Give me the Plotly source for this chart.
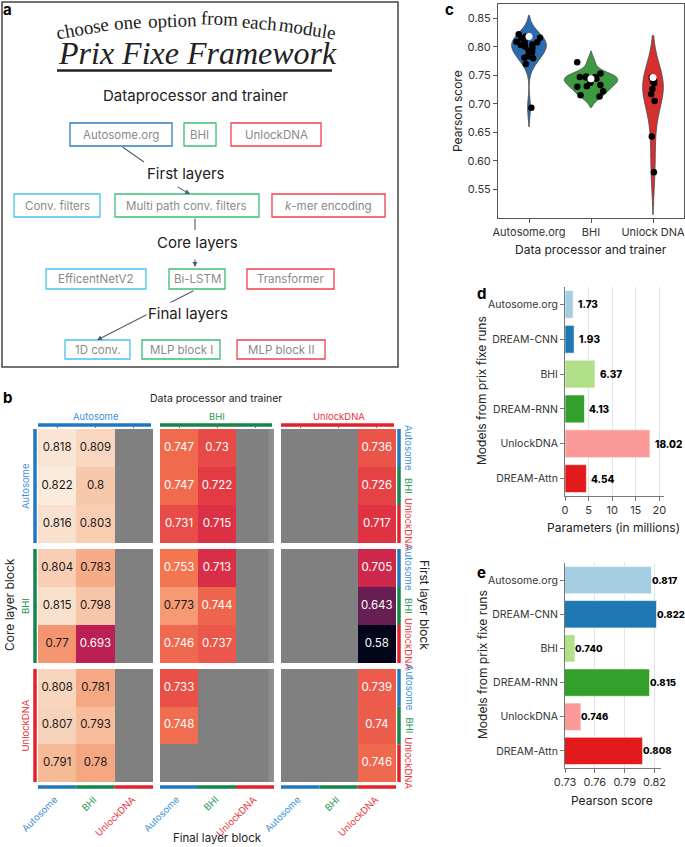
import plotly.graph_objects as go

W, H = 685, 847
def fx(x): return x / W
def fy(y): return 1 - y / H

# ---------------- DATA ----------------
N = None
groups = ["Autosome", "BHI", "UnlockDNA"]
# heatmap blocks: rows = first layer (Autosome, BHI, UnlockDNA), cols = final layer
# naming: core<core group>_dp<data processor group>
coreA_dpA = [[0.818, 0.809, N], [0.822, 0.8, N], [0.816, 0.803, N]]
coreA_dpB = [[0.747, 0.73, N], [0.747, 0.722, N], [0.731, 0.715, N]]
coreA_dpU = [[N, N, 0.736], [N, N, 0.726], [N, N, 0.717]]
coreB_dpA = [[0.804, 0.783, N], [0.815, 0.798, N], [0.77, 0.693, N]]
coreB_dpB = [[0.753, 0.713, N], [0.773, 0.744, N], [0.746, 0.737, N]]
coreB_dpU = [[N, N, 0.705], [N, N, 0.643], [N, N, 0.58]]
coreU_dpA = [[0.808, 0.781, N], [0.807, 0.793, N], [0.791, 0.78, N]]
coreU_dpB = [[0.733, N, N], [0.748, N, N], [N, N, N]]
coreU_dpU = [[N, N, 0.739], [N, N, 0.74], [N, N, 0.746]]

violin_cats = ["Autosome.org", "BHI", "Unlock DNA"]
original_scores = [0.818, 0.744, 0.746]

models = ["Autosome.org", "DREAM-CNN", "BHI", "DREAM-RNN", "UnlockDNA", "DREAM-Attn"]
params_millions = [1.73, 1.93, 6.37, 4.13, 18.02, 4.54]
pearson_scores = [0.817, 0.822, 0.740, 0.815, 0.746, 0.808]
model_colors = ["#a6cee3", "#1f78b4", "#b2df8a", "#33a02c", "#fb9a99", "#e31a1c"]

c_tick_vals = [0.55, 0.60, 0.65, 0.70, 0.75, 0.80, 0.85]
d_tick_vals = [0, 5, 10, 15, 20]
e_tick_vals = [0.73, 0.76, 0.79, 0.82]

# ---------------- STYLE ----------------
FONT = "Inter"
grp_bar = {"Autosome": "#1f78c1", "BHI": "#14864a", "UnlockDNA": "#e3202b"}
grp_txt = {"Autosome": "#3b8fd3", "BHI": "#2e9a56", "UnlockDNA": "#e8333d"}
rocket = [[0, '#03051a'], [1/7, '#35193e'], [2/7, '#701f57'], [3/7, '#ad1759'],
          [4/7, '#e13342'], [5/7, '#f37651'], [6/7, '#f6b48f'], [1, '#faebdd']]

fig = go.Figure()
shapes, annots = [], []

# ---------------- PANEL b (heatmap) ----------------
col_dom = [(38, 153), (160, 274), (281, 396)]
row_dom = [(429, 543), (549, 663), (669, 782)]
blocks = [[coreA_dpA, coreA_dpB, coreA_dpU],
          [coreB_dpA, coreB_dpB, coreB_dpU],
          [coreU_dpA, coreU_dpB, coreU_dpU]]
allv = [v for r in blocks for b in r for row in b for v in row if v is not None]
zmin, zmax = min(allv), max(allv)

def ax_name(prefix, i):
    return prefix if i == 0 else f"{prefix}{i+1}"

for r in range(3):
    for c in range(3):
        z = blocks[r][c]
        xa, ya = ax_name('x', c), ax_name('y', r)
        shapes.append(dict(type='rect', xref=xa, yref=ya, x0=-0.5, x1=2.5, y0=-0.5, y1=2.5,
                           fillcolor='#808080', line=dict(width=0), layer='below'))
        if c == 1:
            shapes.append(dict(type='rect', xref=xa, yref=ya, x0=2.36, x1=2.5, y0=-0.5, y1=2.5,
                               fillcolor='#8e8e8e', line=dict(width=0), layer='below'))
        fig.add_trace(go.Heatmap(z=z, x=[0, 1, 2], y=[0, 1, 2], xaxis=xa, yaxis=ya,
                                 colorscale=rocket, zmin=zmin, zmax=zmax, showscale=False,
                                 hoverongaps=False))
        tx, ty, tt, tc = [], [], [], []
        for i in range(3):
            for j in range(3):
                v = z[i][j]
                if v is None:
                    continue
                tx.append(j); ty.append(i); tt.append(f"{v:g}")
                tc.append('white' if v < 0.76 else '#1a1a1a')
        fig.add_trace(go.Scatter(x=tx, y=ty, text=tt, mode='text', xaxis=xa, yaxis=ya,
                                 textfont=dict(size=11.5, color=tc, family=FONT),
                                 hoverinfo='skip', showlegend=False))

layout_axes = {}
for c, (x0, x1) in enumerate(col_dom):
    layout_axes[ax_name('xaxis', c)] = dict(domain=[fx(x0), fx(x1)], anchor='y', side='top',
        range=[-0.5, 2.5], tickvals=[0, 1, 2], showticklabels=False, ticks='outside',
        ticklen=3, tickcolor='#777', showgrid=False, zeroline=False, showline=False)
for r, (y0, y1) in enumerate(row_dom):
    layout_axes[ax_name('yaxis', r)] = dict(domain=[fy(y1), fy(y0)], anchor='x',
        range=[2.5, -0.5], tickvals=[0, 1, 2], showticklabels=False, ticks='outside',
        ticklen=3, tickcolor='#777', showgrid=False, zeroline=False, showline=False)

# group bars and labels
for c, (x0, x1) in enumerate(col_dom):
    g = groups[c]
    shapes.append(dict(type='line', xref='paper', yref='paper', x0=fx(x0), x1=fx(x1 - 2),
                       y0=fy(425), y1=fy(425), line=dict(color=grp_bar[g], width=3.5)))
    annots.append(dict(x=fx((x0 + x1) / 2), y=fy(416), text=g, showarrow=False,
                       font=dict(size=9.5, color=grp_txt[g])))
    cw = (x1 - x0) / 3
    for j in range(3):
        gj = groups[j]
        shapes.append(dict(type='line', xref='paper', yref='paper', x0=fx(x0 + j * cw),
                           x1=fx(x0 + (j + 1) * cw), y0=fy(787), y1=fy(787),
                           line=dict(color=grp_bar[gj], width=3.5)))
        annots.append(dict(x=fx(x0 + (j + 0.5) * cw + 6), y=fy(791), text=gj, showarrow=False,
                           textangle=-45, xanchor='right', yanchor='top',
                           font=dict(size=9.5, color=grp_txt[gj])))
for r, (y0, y1) in enumerate(row_dom):
    g = groups[r]
    shapes.append(dict(type='line', xref='paper', yref='paper', x0=fx(35), x1=fx(35),
                       y0=fy(y0), y1=fy(y1), line=dict(color=grp_bar[g], width=3.5)))
    annots.append(dict(x=fx(25), y=fy((y0 + y1) / 2), text=g, showarrow=False, textangle=-90,
                       font=dict(size=9.5, color=grp_txt[g])))
    ch = (y1 - y0) / 3
    for i in range(3):
        gi = groups[i]
        shapes.append(dict(type='line', xref='paper', yref='paper', x0=fx(399), x1=fx(399),
                           y0=fy(y0 + i * ch), y1=fy(y0 + (i + 1) * ch),
                           line=dict(color=grp_bar[gi], width=3.5)))
        annots.append(dict(x=fx(409), y=fy(y0 + (i + 0.5) * ch), text=gi, showarrow=False,
                           textangle=90, font=dict(size=9.5, color=grp_txt[gi])))

annots += [
    dict(x=fx(216), y=fy(398), text="Data processor and trainer", showarrow=False,
         font=dict(size=10.5, color='#222')),
    dict(x=fx(9), y=fy(605), text="Core layer block", showarrow=False, textangle=-90,
         font=dict(size=12, color='#222')),
    dict(x=fx(425), y=fy(605), text="First layer block", showarrow=False, textangle=90,
         font=dict(size=12, color='#222')),
    dict(x=fx(217), y=fy(838), text="Final layer block", showarrow=False,
         font=dict(size=11.5, color='#222')),
]

# ---------------- PANEL c (violins) ----------------
dp_blocks = [[blocks[r][c] for r in range(3)] for c in range(3)]
violin_vals = []
for c in range(3):
    violin_vals.append([v for b in dp_blocks[c] for row in b for v in row if v is not None])
vcolors = ['#2b6cb0', '#3d9a40', '#d62f2f']
vwidths = [0.56, 0.86, 0.33]
vbw = [0.0165, 0.0095, 0.037]
vjit = [0.75, 0.7, 0.4]
for k in range(3):
    fig.add_trace(go.Violin(x=[violin_cats[k]] * len(violin_vals[k]), y=violin_vals[k],
                            xaxis='x4', yaxis='y4', fillcolor=vcolors[k], opacity=1,
                            line=dict(color='#4a4a4a', width=0.8), points='all', pointpos=0,
                            jitter=vjit[k], marker=dict(color='black', size=6.5),
                            width=vwidths[k], bandwidth=vbw[k], spanmode='soft',
                            scalemode='width', showlegend=False, hoverinfo='y'))
fig.add_trace(go.Scatter(x=violin_cats, y=original_scores, mode='markers', xaxis='x4',
                         yaxis='y4', marker=dict(color='white', size=7), showlegend=False))

layout_axes['xaxis4'] = dict(domain=[fx(498), fx(684)], anchor='y4', type='category',
    categoryorder='array', categoryarray=violin_cats, range=[-0.5, 2.5],
    showline=True, mirror=True, linecolor='#555', linewidth=1, ticks='outside', ticklen=4,
    tickcolor='#555', showgrid=False, zeroline=False, tickfont=dict(size=11, color='#333'))
layout_axes['yaxis4'] = dict(domain=[fy(218), fy(4)], anchor='x4', range=[0.5, 0.875],
    tickvals=c_tick_vals, tickformat='.2f', showline=True, mirror=True, linecolor='#555',
    linewidth=1, ticks='outside', ticklen=4, tickcolor='#555', showgrid=False,
    zeroline=False, tickfont=dict(size=11, color='#333'))
annots += [
    dict(x=fx(457), y=fy(111), text="Pearson score", showarrow=False, textangle=-90,
         font=dict(size=12, color='#222')),
    dict(x=fx(591), y=fy(249), text="Data processor and trainer", showarrow=False,
         font=dict(size=12, color='#222')),
]

# ---------------- PANEL d and e (bars) ----------------
bar_marker = dict(color=model_colors, line=dict(color='rgba(255,255,255,0.6)', width=1))
fig.add_trace(go.Bar(y=models, x=params_millions, orientation='h', xaxis='x5', yaxis='y5',
                     marker=bar_marker, width=0.8, showlegend=False))
fig.add_trace(go.Bar(y=models, x=pearson_scores, orientation='h', xaxis='x6', yaxis='y6',
                     marker=bar_marker, width=0.8, showlegend=False))
for m, v in zip(models, params_millions):
    annots.append(dict(x=v, y=m, xref='x5', yref='y5', text=f"{v:.2f}", showarrow=False,
                       xanchor='left', yanchor='middle', xshift=3,
                       font=dict(size=10, color='black', weight=800)))
for m, v in zip(models, pearson_scores):
    annots.append(dict(x=v, y=m, xref='x6', yref='y6', text=f"{v:.3f}", showarrow=False,
                       xanchor='left', yanchor='middle', xshift=-1, borderpad=0,
                       font=dict(size=9.5, color='black', weight=800)))

common_x = dict(showline=True, linecolor='#777', linewidth=1, ticks='outside', ticklen=4,
                tickcolor='#777', showgrid=True, gridcolor='#e4e4e4', zeroline=False,
                tickfont=dict(size=11, color='#333'))
common_y = dict(showline=True, linecolor='#777', linewidth=1, ticks='outside', ticklen=4,
                tickcolor='#777', showgrid=False, zeroline=False, type='category',
                categoryorder='array', categoryarray=models, autorange='reversed',
                tickfont=dict(size=10.5, color='#333'))
layout_axes['xaxis5'] = dict(domain=[fx(565), fx(664)], anchor='y5', range=[0, 21],
                             tickvals=d_tick_vals, **common_x)
layout_axes['yaxis5'] = dict(domain=[fy(496), fy(287)], anchor='x5', **common_y)
layout_axes['xaxis6'] = dict(domain=[fx(565), fx(661)], anchor='y6', range=[0.73, 0.8265],
                             tickvals=e_tick_vals, tickformat='.2f', **common_x)
layout_axes['yaxis6'] = dict(domain=[fy(768), fy(563)], anchor='x6', **common_y)

annots += [
    dict(x=fx(482), y=fy(391), text="Models from prix fixe runs", showarrow=False,
         textangle=-90, font=dict(size=12, color='#222')),
    dict(x=fx(613), y=fy(527), text="Parameters (in millions)", showarrow=False,
         font=dict(size=12, color='#222')),
    dict(x=fx(482), y=fy(665), text="Models from prix fixe runs", showarrow=False,
         textangle=-90, font=dict(size=12, color='#222')),
    dict(x=fx(612), y=fy(800), text="Pearson score", showarrow=False,
         font=dict(size=12, color='#222')),
]

# ---------------- PANEL a (diagram) ----------------
shapes.append(dict(type='rect', xref='paper', yref='paper', x0=fx(2), x1=fx(398),
                   y0=fy(367), y1=fy(2), line=dict(color='#444', width=1.5)))
shapes.append(dict(type='line', xref='paper', yref='paper', x0=fx(57), x1=fx(332),
                   y0=fy(70.5), y1=fy(70.5), line=dict(color='#222', width=2.5)))
arc_words = [("choose", 82, 28, -10), ("one", 127, 23, -5), ("option", 172, 20, -2),
             ("from", 219, 19, 2), ("each", 259, 22, 5), ("module", 307, 28, 9)]
for w, x, y, a in arc_words:
    annots.append(dict(x=fx(x), y=fy(y), text=w, showarrow=False, textangle=a,
                       font=dict(family="Liberation Serif", size=19, color='#222')))
annots.append(dict(x=fx(197), y=fy(53), text="Prix Fixe Framework", showarrow=False,
                   font=dict(family="Liberation Serif", size=32, color='#222', style='italic')))

LB, BL, GR, RD = '#45c4f0', '#2f7fc1', '#3dbd74', '#f0414b'
boxes = [
    ("Autosome.org", 70, 172, 123, 146, BL), ("BHI", 184, 216, 123, 146, GR),
    ("UnlockDNA", 231, 321, 123, 146, RD),
    ("Conv. filters", 14, 100, 194, 217, LB), ("Multi path conv. filters", 115, 259, 194, 217, GR),
    ("<i>k</i>-mer encoding", 272, 385, 194, 217, RD),
    ("EfficentNetV2", 46, 146, 269, 289, LB), ("Bi-LSTM", 169, 225, 269, 289, GR),
    ("Transformer", 247, 334, 269, 289, RD),
    ("1D conv.", 65, 130, 340, 359, LB), ("MLP block I", 142, 220, 340, 359, GR),
    ("MLP block II", 237, 325, 340, 359, RD),
]
for t, x0, x1, y0, y1, col in boxes:
    shapes.append(dict(type='rect', xref='paper', yref='paper', x0=fx(x0), x1=fx(x1),
                       y0=fy(y1), y1=fy(y0), line=dict(color=col, width=1.3), fillcolor='white'))
    annots.append(dict(x=fx((x0 + x1) / 2), y=fy((y0 + y1) / 2), text=t, showarrow=False,
                       font=dict(size=11.5, color='#8a8a8a')))

arrows = [(121, 146, 144, 162, False), (176, 186, 190, 194, True), (195, 217, 195, 230, False),
          (195, 258, 195, 267, True), (195, 290, 97, 340, True)]
for x0, y0, x1, y1, head in arrows:
    annots.append(dict(x=fx(x1), y=fy(y1), xref='paper', yref='paper', text='', showarrow=True,
                       ax=x0 - x1, ay=y0 - y1, arrowhead=2 if head else 0, arrowsize=0.9,
                       arrowwidth=1.1, arrowcolor='#505d6e', standoff=0))
for t, x, y in [("Dataprocessor and trainer", 196, 95), ("First layers", 186, 173),
                ("Core layers", 197, 242), ("Final layers", 188, 313)]:
    annots.append(dict(x=fx(x), y=fy(y), text=t, showarrow=False, bgcolor='white',
                       font=dict(size=15, color='#222')))

# panel letters
for t, x, y in [("a", 8, 9), ("b", 8, 397), ("c", 449, 9), ("d", 481, 294), ("e", 481, 572)]:
    annots.append(dict(x=fx(x), y=fy(y), text=f"<b>{t}</b>", showarrow=False,
                       font=dict(size=15, color='black')))

for a in annots:
    a.setdefault('xref', 'paper')
    a.setdefault('yref', 'paper')
    a.setdefault('xanchor', 'center')
    a.setdefault('yanchor', 'middle')

fig.update_layout(width=W, height=H, autosize=False, margin=dict(l=0, r=0, t=0, b=0),
                  template='none', paper_bgcolor='white', plot_bgcolor='white',
                  font=dict(family=FONT, size=11, color='#222'), showlegend=False,
                  violinmode='overlay', shapes=shapes, annotations=annots, **layout_axes)
fig.write_html("out.html", config={'displayModeBar': False},
               post_script="document.body.style.margin='0';document.body.style.overflow='hidden';")
